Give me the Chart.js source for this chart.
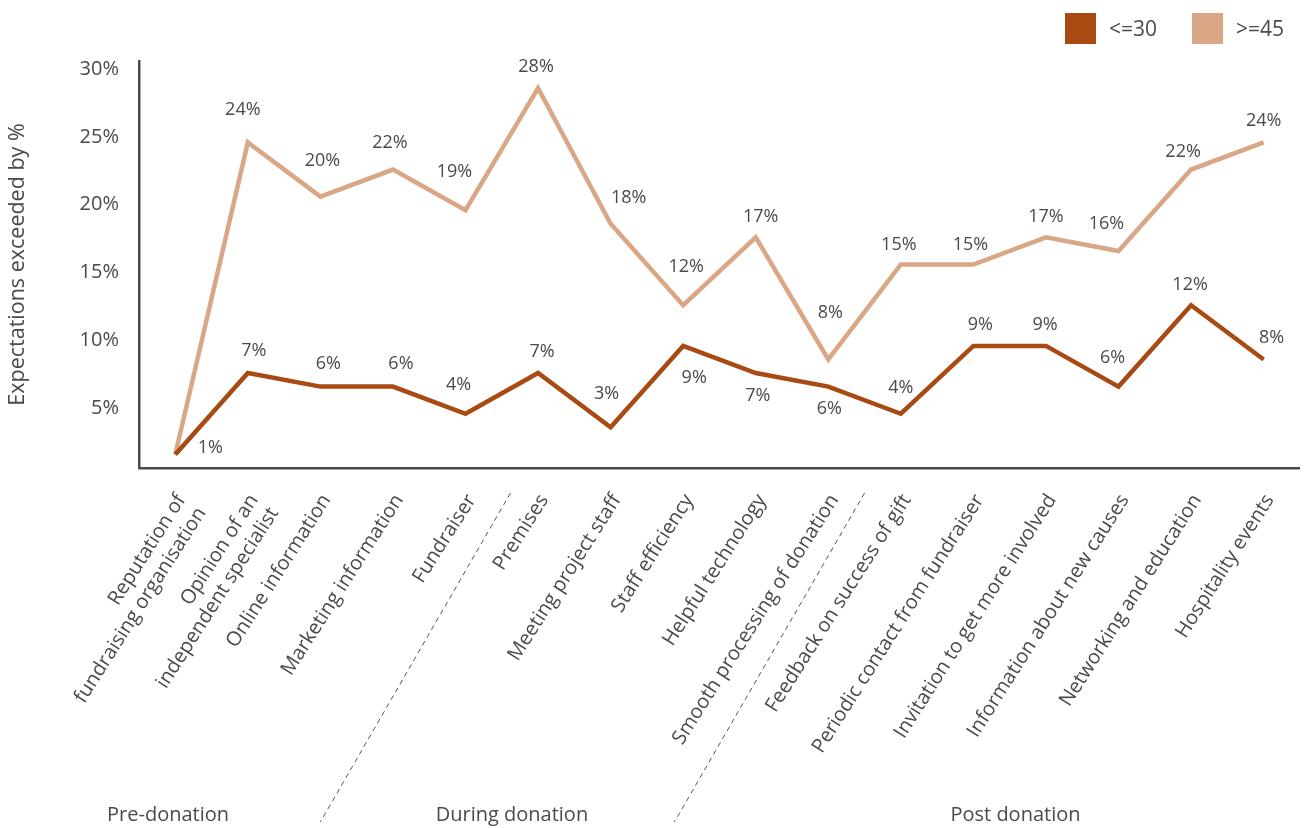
<!DOCTYPE html>
<html>
<head>
<meta charset="utf-8">
<script src="https://cdn.jsdelivr.net/npm/chart.js@4.4.1/dist/chart.umd.min.js"></script>
<style>
  html, body { margin: 0; padding: 0; background: #fff; }
  #wrap { width: 1306px; height: 828px; position: relative; }
</style>
</head>
<body>
<div id="wrap"><canvas id="expectChart"></canvas></div>
<script>
// Touchpoints along the donor journey
const categories = [
    ['Reputation of', 'fundraising organisation'],
    ['Opinion of an', 'independent specialist'],
    'Online information',
    'Marketing information',
    'Fundraiser',
    'Premises',
    'Meeting project staff',
    'Staff efficiency',
    'Helpful technology',
    'Smooth processing of donation',
    'Feedback on success of gift',
    'Periodic contact from fundraiser',
    'Invitation to get more involved',
    'Information about new causes',
    'Networking and education',
    'Hospitality events'
];

// Share of donors whose expectations were exceeded (%), by age band
const under30 = [1, 7, 6, 6, 4, 7, 3, 9, 7, 6, 4, 9, 9, 6, 12, 8];
const over45 = [1, 24, 20, 22, 19, 28, 18, 12, 17, 8, 15, 15, 17, 16, 22, 24];

const seriesNames = ['<=30', '>=45'];
const yTicks = [5, 10, 15, 20, 25, 30];

// Journey phases shown under the axis
const phaseNames = ['Pre-donation', 'During donation', 'Post donation'];

const TEXT = '#4a4a4a';
const DARK = '#a84a12';
const LIGHT = '#d9a786';
const FONT = '"Open Sans", "Noto Sans", sans-serif';

Chart.defaults.font.family = FONT;
Chart.defaults.color = TEXT;

// label nudges (dx, dy) relative to each point, null = no label
const labelNudge = [
    [[35, -7], [6, -22], [8, -23], [8, -23], [-7, -29], [4, -21], [-4, -33], [11, 32],
     [2, 23], [1, 22], [0, -26], [7, -21], [-1, -21], [-6, -29], [-1, -20], [8, -22]],
    [null, [-5, -33], [2, -36], [-3, -27], [-11, -38], [-2, -21], [18, -26], [3, -38],
     [5, -20], [2, -47], [-2, -20], [-3, -20], [0, -20], [-12, -27], [-8, -18], [0, -22]]
];

const valueLabels = {
    id: 'valueLabels',
    afterDatasetsDraw(chart) {
        const ctx = chart.ctx;
        ctx.save();
        ctx.font = '18px ' + FONT;
        ctx.fillStyle = TEXT;
        ctx.textAlign = 'center';
        ctx.textBaseline = 'middle';
        chart.data.datasets.forEach((ds, di) => {
            const meta = chart.getDatasetMeta(di);
            meta.data.forEach((pt, i) => {
                const n = labelNudge[di][i];
                if (!n) return;
                ctx.fillText(ds.data[i] + '%', pt.x + n[0], pt.y + n[1]);
            });
        });
        ctx.restore();
    }
};

// dashed phase separators and phase captions
const phases = {
    id: 'phases',
    afterDraw(chart) {
        const ctx = chart.ctx;
        const x = chart.scales.x;
        const bottom = chart.chartArea.bottom;
        ctx.save();
        ctx.strokeStyle = '#555';
        ctx.lineWidth = 1;
        ctx.setLineDash([5, 4]);
        [4.62, 9.5].forEach(at => {
            const xt = x.getPixelForValue(at);
            const yt = bottom + 25;
            const yb = 822;
            ctx.beginPath();
            ctx.moveTo(xt, yt);
            ctx.lineTo(xt - (yb - yt) * 0.578, yb);
            ctx.stroke();
        });
        ctx.setLineDash([]);
        ctx.font = '20px ' + FONT;
        ctx.fillStyle = TEXT;
        ctx.textAlign = 'center';
        ctx.textBaseline = 'middle';
        [-0.1, 4.64, 11.58].forEach((at, i) => {
            ctx.fillText(phaseNames[i], x.getPixelForValue(at), 815);
        });
        ctx.restore();
    }
};

// square swatch legend in the top right corner
const cornerLegend = {
    id: 'cornerLegend',
    afterDraw(chart) {
        const ctx = chart.ctx;
        const box = 31, gap = 13, spacing = 35;
        ctx.save();
        ctx.font = '21px ' + FONT;
        ctx.textBaseline = 'middle';
        ctx.textAlign = 'left';
        let right = chart.width - 22;
        const items = chart.data.datasets.map(ds => ({
            text: ds.label, color: ds.borderColor, w: ctx.measureText(ds.label).width
        })).reverse();
        items.forEach(it => {
            const left = Math.round(right - it.w - gap - box);
            ctx.fillStyle = it.color;
            ctx.fillRect(left, 13, box, box);
            ctx.fillStyle = TEXT;
            ctx.fillText(it.text, left + box + gap, 30);
            right = left - spacing;
        });
        ctx.restore();
    }
};

new Chart(document.getElementById('expectChart'), {
    type: 'line',
    data: {
        labels: categories,
        datasets: [
            {
                label: seriesNames[0],
                data: under30,
                borderColor: DARK,
                backgroundColor: DARK,
                borderWidth: 4.5,
                pointRadius: 0,
                tension: 0,
                borderJoinStyle: 'miter'
            },
            {
                label: seriesNames[1],
                data: over45,
                borderColor: LIGHT,
                backgroundColor: LIGHT,
                borderWidth: 4.5,
                pointRadius: 0,
                tension: 0,
                borderJoinStyle: 'miter'
            }
        ]
    },
    options: {
        responsive: true,
        maintainAspectRatio: false,
        animation: false,
        layout: { padding: { top: 61, right: 4, left: 0, bottom: 0 } },
        plugins: {
            legend: { display: false },
            tooltip: { enabled: false }
        },
        scales: {
            x: {
                offset: true,
                grid: { display: false, drawTicks: false },
                border: { display: true, color: TEXT, width: 2.5 },
                ticks: {
                    autoSkip: false,
                    minRotation: 57.5,
                    maxRotation: 57.5,
                    padding: 22,
                    labelOffset: 6,
                    font: { size: 20 },
                    color: TEXT
                },
                afterFit(axis) { axis.height = 360; }
            },
            y: {
                min: 0,
                max: 30,
                grid: { display: false, drawTicks: false },
                border: { display: true, color: TEXT, width: 2.5 },
                afterBuildTicks(axis) {
                    axis.ticks = yTicks.map(v => ({ value: v }));
                },
                ticks: {
                    padding: 20,
                    labelOffset: 8,
                    font: { size: 20 },
                    color: TEXT,
                    callback: v => v + '%'
                },
                title: {
                    display: true,
                    text: 'Expectations exceeded by %',
                    font: { size: 21.5 },
                    color: TEXT,
                    padding: { top: 5, bottom: 0 }
                },
                afterFit(axis) { axis.width = 139; }
            }
        }
    },
    plugins: [valueLabels, phases, cornerLegend]
});
</script>
</body>
</html>
